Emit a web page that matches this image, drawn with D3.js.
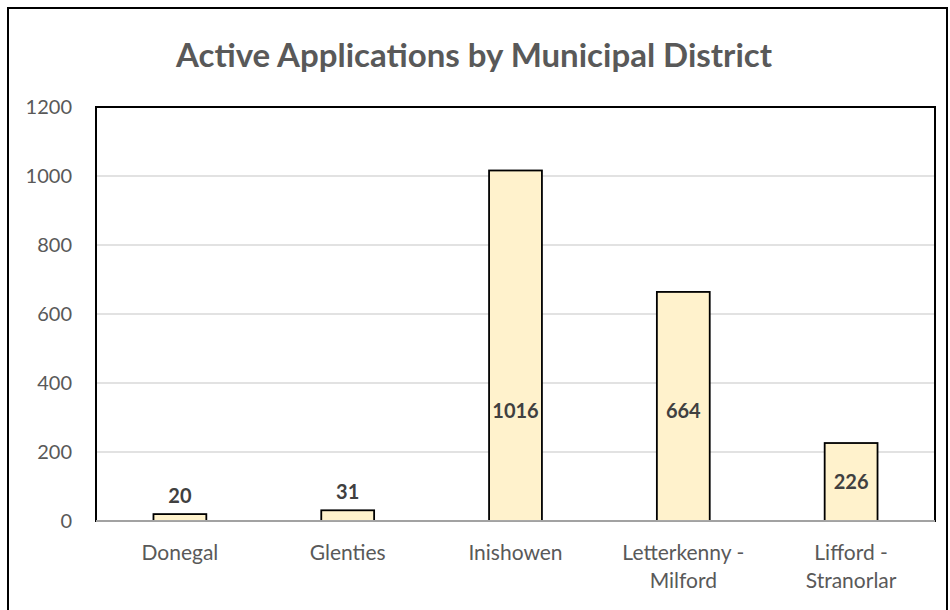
<!DOCTYPE html>
<html><head><meta charset="utf-8">
<script src="https://cdn.jsdelivr.net/npm/d3@7/dist/d3.min.js"></script>
<style>
body{margin:0;background:#fff;}
svg{display:block;font-family:Lato,"Open Sans",sans-serif;}
</style></head>
<body><svg id="c" width="950" height="610"></svg>
<script>
const categories = [["Donegal"], ["Glenties"], ["Inishowen"], ["Letterkenny -", "Milford"], ["Lifford -", "Stranorlar"]];
const values = [20, 31, 1016, 664, 226];
const yTicks = [0, 200, 400, 600, 800, 1000, 1200];
const title = "Active Applications by Municipal District";

const svg = d3.select("#c");
const W = 950, H = 610;
const m = {left: 96, right: 15, top: 107, bottom: 89};
const pw = W - m.left - m.right, ph = H - m.top - m.bottom;

svg.append("rect").attr("x", 8).attr("y", 8).attr("width", 939).attr("height", 620)
  .attr("fill", "#fff").attr("stroke", "#000").attr("stroke-width", 2);

svg.append("text").attr("x", 474).attr("y", 67).attr("text-anchor", "middle")
  .attr("font-size", 33).attr("font-weight", "bold").attr("fill", "#595959").text(title);

const x = d3.scaleBand().domain(categories.map((c, i) => i)).range([m.left, m.left + pw]).paddingInner(0.685).paddingOuter(0.3425);
const y = d3.scaleLinear().domain([0, 1200]).range([m.top + ph, m.top]);

const g = svg.append("g");
g.selectAll("line.grid").data(yTicks.filter(t => t > 0)).join("line")
  .attr("x1", m.left).attr("x2", m.left + pw).attr("y1", d => y(d)).attr("y2", d => y(d))
  .attr("stroke", "#d9d9d9").attr("stroke-width", 1.3);

g.append("rect").attr("x", m.left).attr("y", m.top).attr("width", pw).attr("height", ph)
  .attr("fill", "none").attr("stroke", "#000").attr("stroke-width", 2);

const yAxis = d3.axisLeft(y).tickValues(yTicks).tickFormat(d3.format("d")).tickSize(0).tickPadding(24);
const ya = svg.append("g").attr("transform", `translate(${m.left},0)`).call(yAxis);
ya.select(".domain").remove();
ya.selectAll("text").attr("font-size", 20).attr("fill", "#595959").attr("font-family", "Lato,'Open Sans',sans-serif");

g.selectAll("rect.bar").data(values).join("rect").attr("class", "bar")
  .attr("x", (d, i) => x(i)).attr("width", x.bandwidth())
  .attr("y", d => y(d)).attr("height", d => y(0) - y(d))
  .attr("fill", "#fff2cc").attr("stroke", "#000").attr("stroke-width", 1.8);

g.append("line").attr("x1", m.left).attr("x2", m.left + pw).attr("y1", y(0)).attr("y2", y(0))
  .attr("stroke", "#d9d9d9").attr("stroke-width", 1.5);

g.selectAll("text.lbl").data(values).join("text").attr("class", "lbl")
  .attr("x", (d, i) => x(i) + x.bandwidth() / 2)
  .attr("y", d => {
    const hgt = y(0) - y(d);
    if (hgt < 40) return y(d) - 18;
    return y(0) - Math.min(hgt / 2, 110);
  })
  .attr("dy", "0.35em")
  .attr("text-anchor", "middle").attr("font-size", 20).attr("font-weight", "bold").attr("fill", "#404040")
  .text(d => d);

const xa = svg.append("g");
categories.forEach((lines, i) => {
  const t = xa.append("text").attr("x", x(i) + x.bandwidth() / 2).attr("y", 560)
    .attr("text-anchor", "middle").attr("font-size", 21).attr("fill", "#595959");
  lines.forEach((ln, j) => t.append("tspan").attr("x", x(i) + x.bandwidth() / 2).attr("dy", j === 0 ? 0 : 28).text(ln));
});
</script></body></html>
